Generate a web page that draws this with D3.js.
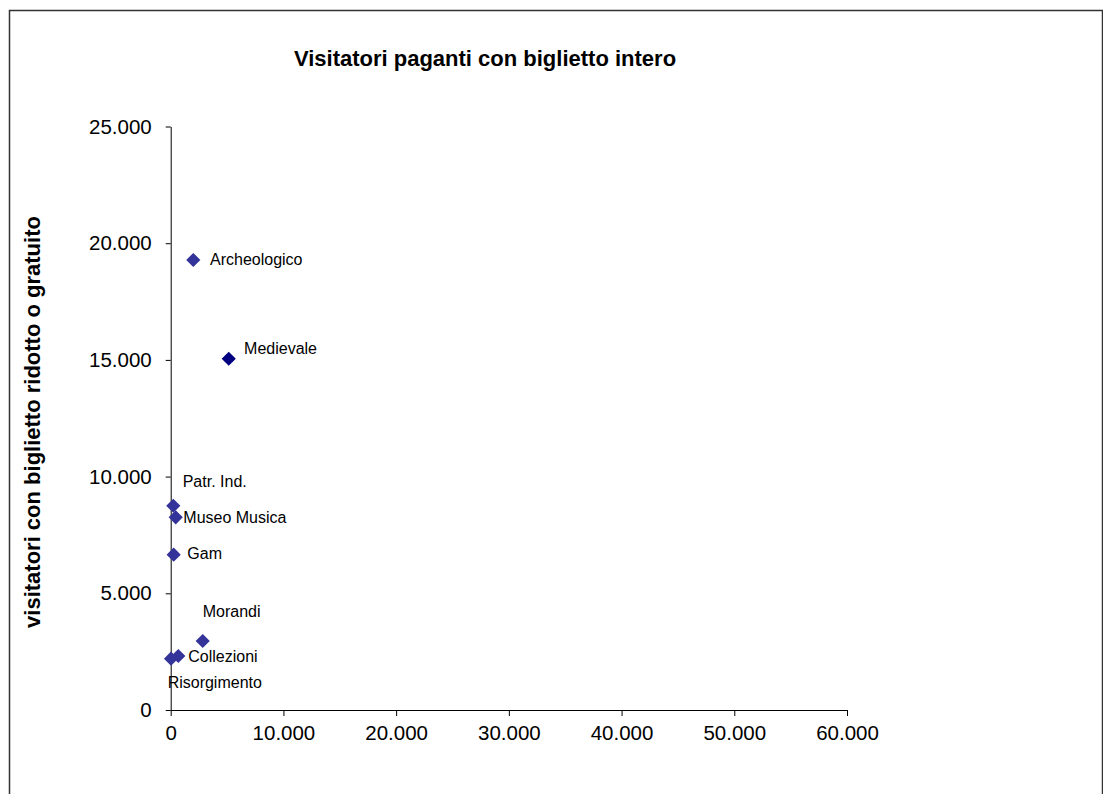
<!DOCTYPE html>
<html>
<head>
<meta charset="utf-8">
<script src="https://cdn.jsdelivr.net/npm/d3@7"></script>
<style>
  html, body { margin: 0; padding: 0; background: #fff; }
  svg { display: block; }
  text { font-family: "Liberation Sans", Arial, sans-serif; }
</style>
</head>
<body>
<svg id="chart" width="1103" height="794"></svg>
<script>
// ---- data ----
const museums = ["Archeologico", "Medievale", "Patr. Ind.", "Museo Musica", "Gam", "Morandi", "Collezioni", "Risorgimento"];
const fullTicket = [2005, 5150, 230, 445, 265, 2840, 675, 30];          // x: visitatori paganti con biglietto intero
const reducedTicket = [19280, 15050, 8750, 8255, 6655, 2955, 2315, 2200]; // y: visitatori con biglietto ridotto o gratuito
const xTicks = [0, 10000, 20000, 30000, 40000, 50000, 60000];
const yTicks = [0, 5000, 10000, 15000, 20000, 25000];
const titleText = "Visitatori paganti con biglietto intero";
const yTitleText = "visitatori con biglietto ridotto o gratuito";

// label placement (layout, offsets from the marker in px)
const labelDx = [16.7, 15.3, 9.4, 7.6, 13.6, 0, 10, -3.4];
const labelDy = [4.8, -5.2, -18.5, 5.9, 4.8, -23.8, 6.2, 29.5];
const markerColors = ["#333399", "#000080", "#333399", "#333399", "#333399", "#333399", "#333399", "#333399"];

const svg = d3.select("#chart");

// outer frame
svg.append("rect")
  .attr("x", 9.5).attr("y", 10.5)
  .attr("width", 1093).attr("height", 820)
  .attr("fill", "#fff").attr("stroke", "#333").attr("stroke-width", 1.5);

const x = d3.scaleLinear().domain([0, 60000]).range([170.7, 847]);
const y = d3.scaleLinear().domain([0, 25000]).range([710, 126.5]);

const fmt = d => d === 0 ? "0" : d3.format(",")(d).replace(/,/g, ".");

// x axis
const gx = svg.append("g").attr("transform", `translate(0,${y(0)})`)
  .call(d3.axisBottom(x).tickValues(xTicks).tickFormat(fmt).tickSizeInner(6).tickSizeOuter(0).tickPadding(9));
gx.select(".domain").attr("stroke", "#000");
gx.selectAll(".tick line").attr("stroke", "#000");
gx.selectAll(".tick text").attr("font-size", 20.5).attr("fill", "#000")
  .attr("font-family", "Liberation Sans, Arial, sans-serif");

// y axis
const gy = svg.append("g").attr("transform", `translate(${x(0)},0)`)
  .call(d3.axisLeft(y).tickValues(yTicks).tickFormat(fmt).tickSizeInner(5).tickSizeOuter(0).tickPadding(14));
gy.select(".domain").attr("stroke", "#000");
gy.selectAll(".tick line").attr("stroke", "#000");
gy.selectAll(".tick text").attr("font-size", 20.5).attr("fill", "#000")
  .attr("font-family", "Liberation Sans, Arial, sans-serif");

// title
svg.append("text")
  .attr("x", 485).attr("y", 66)
  .attr("text-anchor", "middle")
  .attr("font-size", 22).attr("font-weight", "bold")
  .text(titleText);

// y-axis title
svg.append("text")
  .attr("transform", "translate(40,422) rotate(-90)")
  .attr("text-anchor", "middle")
  .attr("font-size", 22).attr("font-weight", "bold")
  .text(yTitleText);

// points
const data = museums.map((m, i) => ({ name: m, xv: fullTicket[i], yv: reducedTicket[i], dx: labelDx[i], dy: labelDy[i], c: markerColors[i] }));
const diamond = d3.symbol().type(d3.symbolDiamond2).size(128);

svg.append("g").selectAll("path")
  .data(data).join("path")
  .attr("d", diamond)
  .attr("transform", d => `translate(${x(d.xv)},${y(d.yv)})`)
  .attr("fill", d => d.c);

svg.append("g").selectAll("text")
  .data(data).join("text")
  .attr("x", d => x(d.xv) + d.dx)
  .attr("y", d => y(d.yv) + d.dy)
  .attr("font-size", 16)
  .attr("fill", "#000")
  .text(d => d.name);
</script>
</body>
</html>
